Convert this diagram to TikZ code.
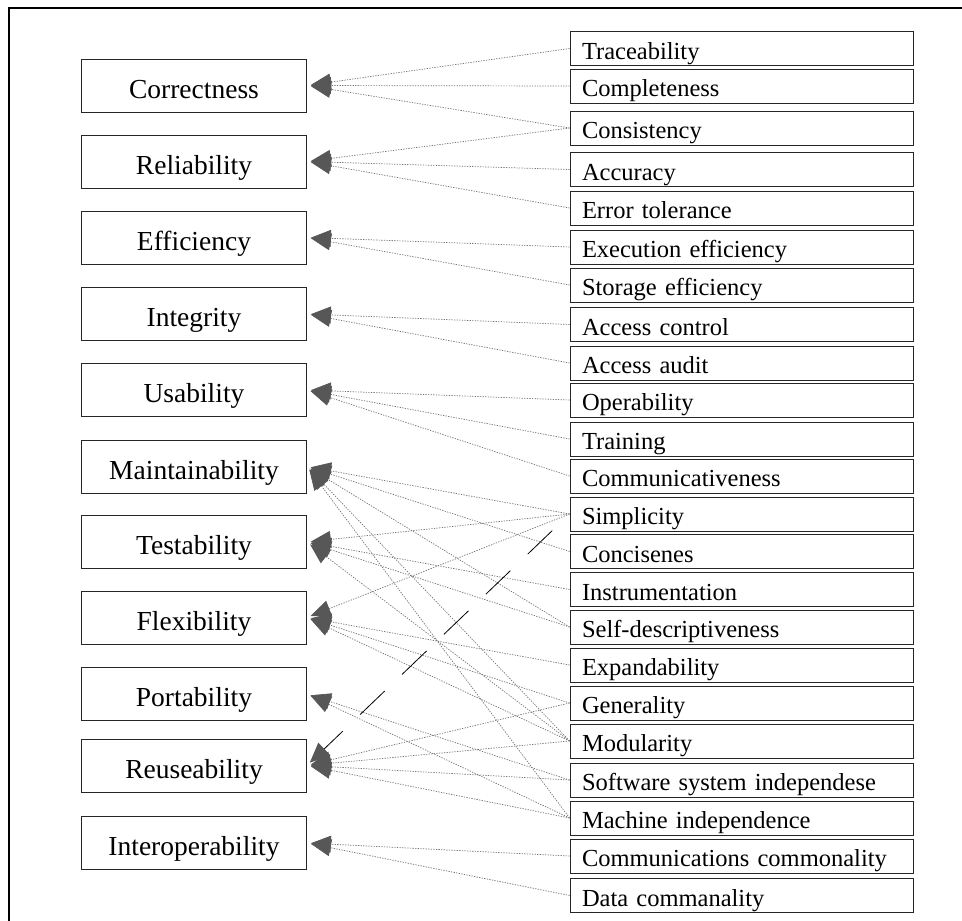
\documentclass[tikz,border=0pt]{standalone}
\usepackage{fontspec}
\setmainfont{Liberation Serif}
\usetikzlibrary{arrows.meta}
\begin{document}
\begin{tikzpicture}[x=1pt,y=-1pt,
  quality/.style={draw=black!85, line width=0.8pt, minimum width=225pt,
    minimum height=53pt, inner sep=0pt, text height=27.5pt, text depth=2.3pt,
    font=\fontsize{27.5}{30}\selectfont},
  criterion/.style={draw=black!85, line width=0.8pt, minimum height=34pt,
    text width=319pt, inner xsep=12pt, inner ysep=0pt, align=left,
    text height=22pt, text depth=0.8pt,
    font=\fontsize{24.5}{26}\selectfont},
  link/.style={draw=black!55, line width=0.7pt, dash pattern=on 1.3pt off 1.3pt,
    shorten >=4pt, -{Triangle[length=20pt,width=17pt,color=black!66]}},
  longdash/.style={draw=black, line width=0.8pt, dash pattern=on 34pt off 24pt,
    dash phase=34pt, shorten >=4pt, -{Triangle[length=20pt,width=17pt,color=black!66]}},
  frame/.style={draw=black, line width=1.2pt}
]
\useasboundingbox (0,0) rectangle (962,921);
\draw[frame] (9,921) -- (9,8) -- (962,8);

% quality factors
\node[quality] (cor) at (194,85.5)  {Correctness};
\node[quality] (rel) at (194,161.5) {Reliability};
\node[quality] (eff) at (194,237.5) {Efficiency};
\node[quality] (int) at (194,314)   {Integrity};
\node[quality] (usa) at (194,390)   {Usability};
\node[quality] (mai) at (194,466.5) {Maintainability};
\node[quality] (tes) at (194,542)   {Testability};
\node[quality] (fle) at (194,617.5) {Flexibility};
\node[quality] (por) at (194,694)   {Portability};
\node[quality] (reu) at (194,765.5) {Reuseability};
\node[quality] (iop) at (194,843)   {Interoperability};

% quality criteria
\node[criterion] (trc) at (741.5,48.5)  {Traceability};
\node[criterion] (cpl) at (741.5,86)    {Completeness};
\node[criterion] (cns) at (741.5,128)   {Consistency};
\node[criterion] (acu) at (741.5,169.5) {Accuracy};
\node[criterion] (ert) at (741.5,208)   {Error tolerance};
\node[criterion] (exe) at (741.5,247)   {Execution efficiency};
\node[criterion] (sto) at (741.5,285)   {Storage efficiency};
\node[criterion] (acc) at (741.5,324.5) {Access control};
\node[criterion] (aud) at (741.5,363)   {Access audit};
\node[criterion] (ope) at (741.5,400)   {Operability};
\node[criterion] (trn) at (741.5,439)   {Training};
\node[criterion] (cmv) at (741.5,476)   {Communicativeness};
\node[criterion] (sim) at (741.5,514)   {Simplicity};
\node[criterion] (cnc) at (741.5,551.5) {Concisenes};
\node[criterion] (ins) at (741.5,589.5) {Instrumentation};
\node[criterion] (sdc) at (741.5,627)   {Self-descriptiveness};
\node[criterion] (exp) at (741.5,665)   {Expandability};
\node[criterion] (gen) at (741.5,703)   {Generality};
\node[criterion] (mod) at (741.5,741)   {Modularity};
\node[criterion] (ssi) at (741.5,780)   {Software system independese};
\node[criterion] (mch) at (741.5,818)   {Machine independence};
\node[criterion] (ccm) at (741.5,856)   {Communications commonality};
\node[criterion] (dcm) at (741.5,895.5) {Data commanality};

% criteria -> factors
\foreach \c/\f in {trc/cor, cpl/cor, cns/cor,
                   cns/rel, acu/rel, ert/rel,
                   exe/eff, sto/eff,
                   acc/int, aud/int,
                   ope/usa, trn/usa, cmv/usa,
                   sim/mai, cnc/mai, sdc/mai, mod/mai, mch/mai,
                   sim/tes, ins/tes, sdc/tes, mod/tes,
                   sim/fle, exp/fle, gen/fle, mod/fle,
                   ssi/por, mch/por,
                   gen/reu, mod/reu, ssi/reu, mch/reu,
                   ccm/iop, dcm/iop}
  \draw[link] (\c.west) -- (\f.east);
\draw[longdash] (sim.west) -- (reu.east);
\end{tikzpicture}
\end{document}
